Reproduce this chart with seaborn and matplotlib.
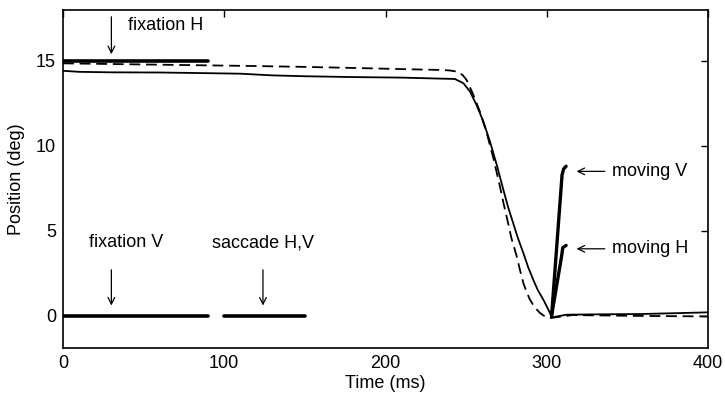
import matplotlib
matplotlib.use("Agg")
import matplotlib.pyplot as plt
import seaborn as sns
import pandas as pd

# ---- data ----
eye_t = [0, 10, 30, 60, 90, 110, 130, 150, 180, 210, 234, 243, 248.3, 252.4, 256.5,
         260.7, 264.8, 269, 273, 276, 279.2, 282, 285.5, 288.5, 291.7, 294.5, 297.9,
         300, 302, 303, 312.3, 330, 357.8, 380, 400]
eye_v = [14.42, 14.36, 14.33, 14.32, 14.28, 14.25, 14.15, 14.1, 14.05, 14.02, 13.96,
         13.94, 13.69, 13.2, 12.4, 11.43, 10.25, 8.88, 7.45, 6.4, 5.45, 4.6, 3.69,
         2.85, 2.1, 1.5, 0.94, 0.55, 0.16, -0.1, 0.06, 0.08, 0.1, 0.15, 0.2]

model_t = [0, 30, 60, 90, 120, 150, 184, 210, 234, 240, 245, 248, 250.3, 254.5,
           258.6, 262.8, 266.9, 271, 273, 275.1, 278, 281.4, 283.5, 285.5, 287.5,
           289.6, 292.5, 295.8, 299, 302, 316, 347.5, 370, 400]
model_v = [14.86, 14.82, 14.78, 14.74, 14.7, 14.65, 14.58, 14.52, 14.47, 14.44,
           14.36, 14.15, 13.88, 13.0, 12.0, 10.75, 9.27, 7.6, 6.7, 5.84, 4.6, 3.49,
           2.65, 1.92, 1.4, 0.94, 0.5, 0.16, -0.05, -0.14, 0.04, 0.0, -0.02, -0.04]

fixH_t = [0, 90]
fixH_v = [15, 15]
fixV_t = [0, 90]
fixV_v = [0, 0]
sacc_t = [100, 150]
sacc_v = [0, 0]
movV_t = [303, 309.5, 310.5, 312]
movV_v = [0.0, 8.3, 8.65, 8.8]
movH_t = [303, 309.2, 309.9, 312]
movH_v = [0.0, 3.5, 4.0, 4.14]

x_ticks = [0, 100, 200, 300, 400]
y_ticks = [0, 5, 10, 15]

annotations = [
    # text, text x, text y, arrow tail (x, y), arrow head (x, y)
    ("fixation H", 40.5, 17.1, (30, 17.6), (30, 15.4)),
    ("fixation V", 39, 4.3, (30, 2.7), (30, 0.6)),
    ("saccade H,V", 124, 4.3, (124, 2.7), (124, 0.6)),
    ("moving V", 340.5, 8.5, (336, 8.5), (318.5, 8.5)),
    ("moving H", 340.5, 3.94, (336, 3.94), (318.5, 3.94)),
]

# ---- plotting ----
sns.set_theme(style="white")
plt.rcParams["font.family"] = ["Liberation Sans", "DejaVu Sans"]

fig = plt.figure(figsize=(7.25, 3.98), dpi=100)
ax = fig.add_axes([63 / 725, 50 / 398, (708 - 63) / 725, (348 - 10) / 398])

def line(t, v, **kw):
    df = pd.DataFrame({"t": t, "v": v})
    sns.lineplot(data=df, x="t", y="v", ax=ax, sort=False, estimator=None,
                 color="black", legend=False, **kw)

line(model_t, model_v, lw=1.3, linestyle=(0, (6, 3.2)))
line(eye_t, eye_v, lw=1.3)
for t, v in [(fixH_t, fixH_v), (fixV_t, fixV_v), (sacc_t, sacc_v)]:
    line(t, v, lw=2.6, solid_capstyle="round")
line(movV_t, movV_v, lw=2.4, solid_capstyle="round")
line(movH_t, movH_v, lw=2.4, solid_capstyle="round")

for txt, tx, ty, tail, head in annotations:
    ha = "left" if txt.startswith("moving") or txt == "fixation H" else "center"
    ax.text(tx, ty, txt, fontsize=13, ha=ha, va="center", color="black")
    ax.annotate("", xy=head, xytext=tail,
                arrowprops=dict(arrowstyle="->", color="black", lw=0.9,
                                mutation_scale=12, shrinkA=0, shrinkB=0))

ax.set_xlim(0, 400)
ax.set_ylim(-1.9, 18)
ax.set_xticks(x_ticks)
ax.set_yticks(y_ticks)
ax.set_xlabel("Time (ms)", fontsize=13, labelpad=2, color="black")
ax.set_ylabel("Position (deg)", fontsize=13, labelpad=8, color="black")
ax.tick_params(direction="in", length=5, width=1, top=True, right=True,
               labelsize=13, pad=5, colors="black")
for s in ax.spines.values():
    s.set_color("black")
    s.set_linewidth(1.2)
    s.set_visible(True)

fig.savefig("out.png", dpi=100, facecolor="white")
